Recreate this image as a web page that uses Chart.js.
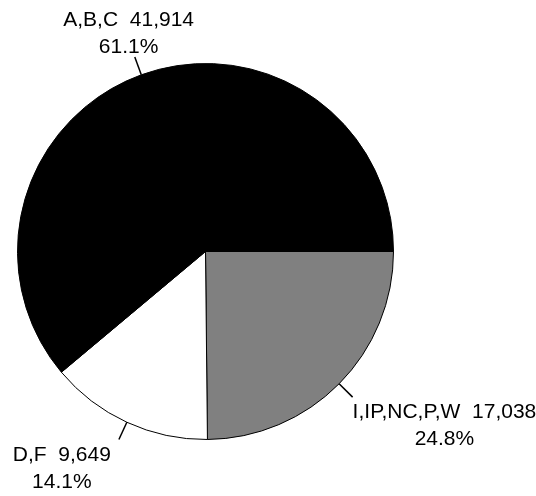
<!DOCTYPE html>
<html>
<head>
<meta charset="utf-8">
<script src="https://cdn.jsdelivr.net/npm/chart.js@4/dist/chart.umd.min.js"></script>
<style>
  html, body { margin: 0; padding: 0; background: #fff; }
  #wrap { width: 536px; height: 496px; position: relative; }
</style>
</head>
<body>
<div id="wrap"><canvas id="chart-pie"></canvas></div>
<script>
// categories and values, clockwise from 3 o'clock
const categorias = ['I,IP,NC,P,W', 'D,F', 'A,B,C'];
const valores = [17038, 9649, 41914];
const cores = ['#808080', '#FFFFFF', '#000000'];

const total = valores.reduce((a, v) => a + v, 0);
const FONTE = '21px "Liberation Sans", Arial, sans-serif';

// rótulos externos com linha guia
const rotulosPlugin = {
  id: 'rotulos',
  afterDatasetsDraw(chart) {
    const ctx = chart.ctx;
    const meta = chart.getDatasetMeta(0);
    ctx.save();
    ctx.font = FONTE;
    ctx.fillStyle = '#000';
    ctx.strokeStyle = '#000';
    ctx.lineWidth = 1.5;
    meta.data.forEach((arc, i) => {
      const p = arc.getProps(['x', 'y', 'startAngle', 'endAngle', 'outerRadius'], true);
      const mid = (p.startAngle + p.endAngle) / 2;
      const c = Math.cos(mid), s = Math.sin(mid);
      const x1 = p.x + c * p.outerRadius, y1 = p.y + s * p.outerRadius;
      const x2 = p.x + c * (p.outerRadius + 19), y2 = p.y + s * (p.outerRadius + 19);
      ctx.beginPath();
      ctx.moveTo(x1, y1);
      ctx.lineTo(x2, y2);
      ctx.stroke();

      const linhas = [
        `${categorias[i]}  ${valores[i].toLocaleString('en-US')}`,
        `${(valores[i] / total * 100).toFixed(1)}%`
      ];
      const larg = Math.max(...linhas.map(t => ctx.measureText(t).width));
      const lh = 27;
      let cx;
      if (Math.abs(s) > 0.92) cx = x2 + c * 18;
      else if (c > 0) cx = x2 + larg / 2;
      else cx = x2 - 8 - larg / 2;
      ctx.textAlign = 'center';
      ctx.textBaseline = 'alphabetic';
      if (s < 0) {
        // acima da linha
        linhas.forEach((t, k) => ctx.fillText(t, cx, y2 - 4 - (linhas.length - 1 - k) * lh));
      } else {
        linhas.forEach((t, k) => ctx.fillText(t, cx, y2 + 21 + k * lh));
      }
    });
    ctx.restore();
  }
};

new Chart(document.getElementById('chart-pie'), {
  type: 'pie',
  data: {
    labels: categorias,
    datasets: [{
      data: valores,
      backgroundColor: cores,
      borderColor: '#000',
      borderWidth: 1,
    }]
  },
  options: {
    responsive: true,
    maintainAspectRatio: false,
    animation: false,
    rotation: 90,
    layout: { padding: { left: 17, top: 63, right: 142, bottom: 56 } },
    plugins: { legend: { display: false }, tooltip: { enabled: false } }
  },
  plugins: [rotulosPlugin]
});
</script>
</body>
</html>
